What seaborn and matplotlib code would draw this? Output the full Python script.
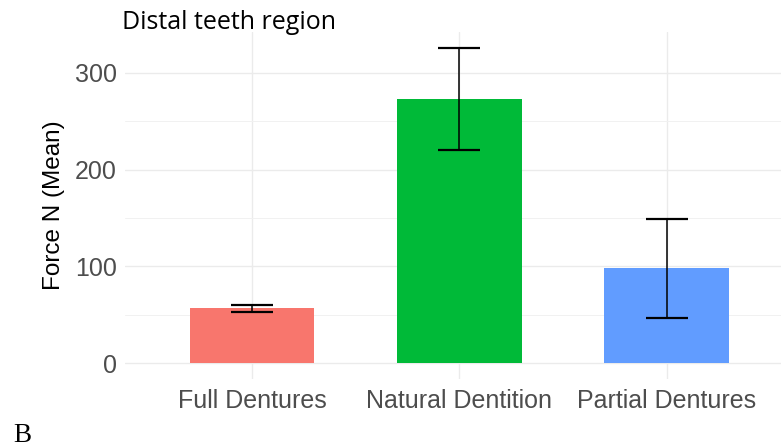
import matplotlib
matplotlib.use("Agg")
import matplotlib.pyplot as plt
from matplotlib.ticker import MultipleLocator
import seaborn as sns

# Mean bite force in the distal teeth region, with standard deviations
groups = ["Full Dentures", "Natural Dentition", "Partial Dentures"]
force_mean = [57, 273, 98]
force_sd = [3.5, 53, 51]
bar_colors = ["#F8766D", "#00BA38", "#619CFF"]
y_ticks = [0, 100, 200, 300]

sns.set_theme(style="white")
plt.rcParams["font.family"] = ["Liberation Sans", "DejaVu Sans"]

fig = plt.figure(figsize=(7.81, 4.46), dpi=100)
ax = fig.add_axes([0.160, 0.150, 0.8566, 0.778])

sns.barplot(x=groups, y=force_mean, hue=groups, palette=bar_colors,
            width=0.6, legend=False, saturation=1, linewidth=0, ax=ax, zorder=2)
ax.errorbar(x=list(range(len(groups))), y=force_mean, yerr=force_sd, fmt="none",
            ecolor="black", elinewidth=1.1, capsize=15, capthick=1.6, zorder=3)

ax.set_xlim(-0.615, 2.615)
ax.set_ylim(-16.3, 342)
ax.set_yticks(y_ticks)
ax.yaxis.set_minor_locator(MultipleLocator(50))

ax.grid(True, which="major", axis="both", color="#EBEBEB", linewidth=1.0, zorder=0)
ax.grid(True, which="minor", axis="y", color="#F1F1F1", linewidth=0.7, zorder=0)
ax.set_axisbelow(True)
for s in ax.spines.values():
    s.set_visible(False)

ax.tick_params(axis="both", which="both", length=0, labelsize=18, labelcolor="#4D4D4D")
ax.tick_params(axis="x", pad=7)
ax.tick_params(axis="y", pad=6)
ax.set_xlabel("")
ax.set_ylabel("Force N (Mean)", fontsize=17.5, color="black", labelpad=7)

fig.text(122 / 781, 1 - 29 / 446, "Distal teeth region", fontsize=18,
         family=["Open Sans", "DejaVu Sans"], color="black", ha="left", va="baseline")
fig.text(13 / 781, 1 - 441.5 / 446, "B", fontsize=19.5,
         family=["Liberation Serif", "DejaVu Serif"], color="black", ha="left", va="baseline")

fig.savefig("out.png", dpi=100)
